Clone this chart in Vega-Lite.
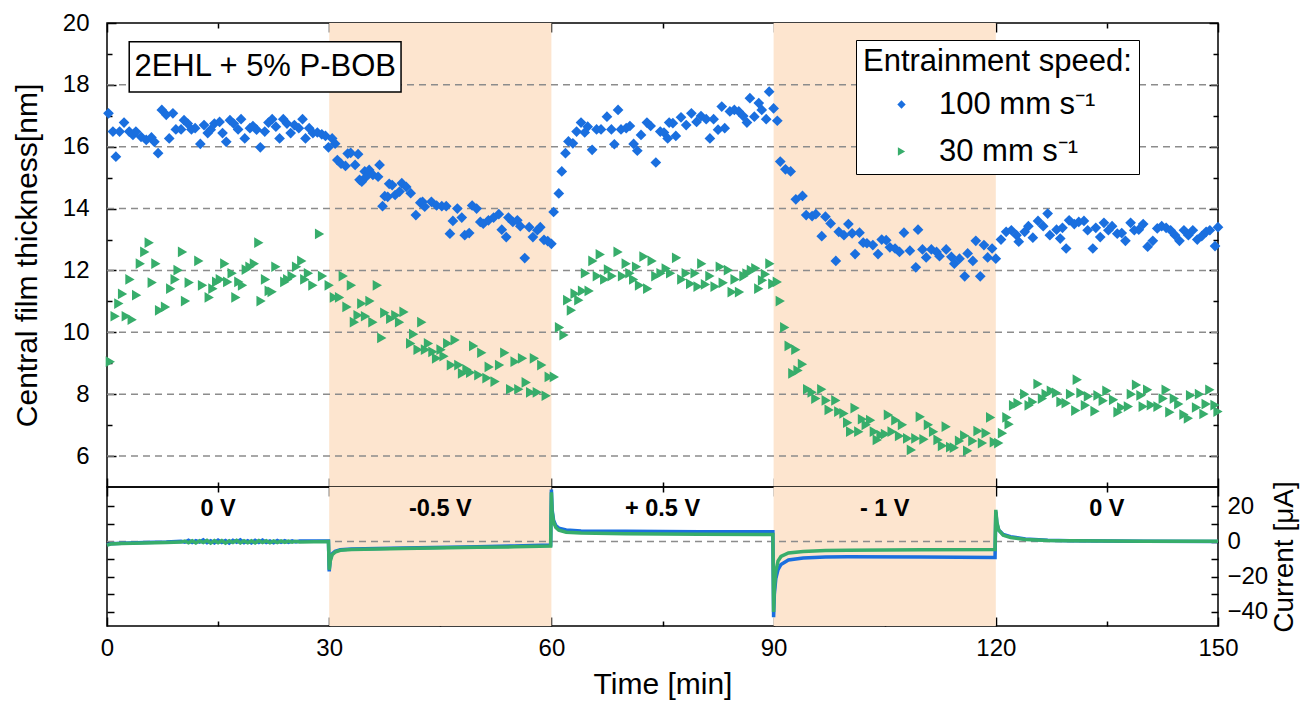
{
  "$schema": "https://vega.github.io/schema/vega-lite/v6.json",
  "padding": {"left": 11, "top": 10, "right": 5, "bottom": 5},
  "bounds": "flush",
  "spacing": 0,
  "background": "white",
  "config": {
    "font": "Liberation Sans",
    "view": {"stroke": "black", "strokeWidth": 1.5},
    "axis": {"domain": false, "grid": false, "tickColor": "black", "tickWidth": 1.5, "labelFont": "Liberation Sans", "labelFontSize": 24, "labelColor": "black", "titleFont": "Liberation Sans", "titleFontSize": 31, "titleFontWeight": "normal", "titleColor": "black", "labelFlush": false, "labelOverlap": false}
  },
  "resolve": {"scale": {"color": "independent", "shape": "independent"}},
  "datasets": {
    "zones": [{"start": 30, "end": 60}, {"start": 90, "end": 120}],
    "grid": [{"g": 6}, {"g": 8}, {"g": 10}, {"g": 12}, {"g": 14}, {"g": 16}, {"g": 18}],
    "zero": [{"z": 0}],
    "film": [
      {"t":0.2,"h":17.08,"s":"100 mm s⁻¹"},{"t":0.8,"h":16.49,"s":"100 mm s⁻¹"},{"t":1.2,"h":15.68,"s":"100 mm s⁻¹"},{"t":1.7,"h":16.49,"s":"100 mm s⁻¹"},{"t":2.3,"h":16.78,"s":"100 mm s⁻¹"},{"t":3.0,"h":16.49,"s":"100 mm s⁻¹"},{"t":3.5,"h":16.38,"s":"100 mm s⁻¹"},{"t":3.9,"h":16.49,"s":"100 mm s⁻¹"},{"t":4.6,"h":16.32,"s":"100 mm s⁻¹"},{"t":5.3,"h":16.22,"s":"100 mm s⁻¹"},
      {"t":6.0,"h":16.30,"s":"100 mm s⁻¹"},{"t":6.4,"h":16.16,"s":"100 mm s⁻¹"},{"t":6.9,"h":15.79,"s":"100 mm s⁻¹"},{"t":7.4,"h":17.19,"s":"100 mm s⁻¹"},{"t":8.0,"h":17.03,"s":"100 mm s⁻¹"},{"t":8.4,"h":16.27,"s":"100 mm s⁻¹"},{"t":8.9,"h":17.08,"s":"100 mm s⁻¹"},{"t":9.3,"h":16.56,"s":"100 mm s⁻¹"},{"t":10.0,"h":16.56,"s":"100 mm s⁻¹"},{"t":10.4,"h":16.86,"s":"100 mm s⁻¹"},
      {"t":10.9,"h":16.75,"s":"100 mm s⁻¹"},{"t":11.4,"h":16.56,"s":"100 mm s⁻¹"},{"t":11.9,"h":16.60,"s":"100 mm s⁻¹"},{"t":12.6,"h":16.09,"s":"100 mm s⁻¹"},{"t":13.1,"h":16.70,"s":"100 mm s⁻¹"},{"t":13.6,"h":16.44,"s":"100 mm s⁻¹"},{"t":14.0,"h":16.55,"s":"100 mm s⁻¹"},{"t":14.5,"h":16.75,"s":"100 mm s⁻¹"},{"t":15.2,"h":16.80,"s":"100 mm s⁻¹"},{"t":15.6,"h":16.44,"s":"100 mm s⁻¹"},
      {"t":16.1,"h":16.16,"s":"100 mm s⁻¹"},{"t":16.6,"h":16.86,"s":"100 mm s⁻¹"},{"t":17.1,"h":16.75,"s":"100 mm s⁻¹"},{"t":17.7,"h":16.56,"s":"100 mm s⁻¹"},{"t":18.1,"h":16.89,"s":"100 mm s⁻¹"},{"t":18.6,"h":16.27,"s":"100 mm s⁻¹"},{"t":19.3,"h":16.60,"s":"100 mm s⁻¹"},{"t":19.7,"h":16.67,"s":"100 mm s⁻¹"},{"t":20.2,"h":16.55,"s":"100 mm s⁻¹"},{"t":20.7,"h":15.98,"s":"100 mm s⁻¹"},
      {"t":21.3,"h":16.49,"s":"100 mm s⁻¹"},{"t":21.8,"h":16.78,"s":"100 mm s⁻¹"},{"t":22.3,"h":16.89,"s":"100 mm s⁻¹"},{"t":22.8,"h":16.65,"s":"100 mm s⁻¹"},{"t":23.3,"h":16.27,"s":"100 mm s⁻¹"},{"t":23.8,"h":16.89,"s":"100 mm s⁻¹"},{"t":24.3,"h":16.75,"s":"100 mm s⁻¹"},{"t":24.8,"h":16.44,"s":"100 mm s⁻¹"},{"t":25.3,"h":16.70,"s":"100 mm s⁻¹"},{"t":25.9,"h":16.60,"s":"100 mm s⁻¹"},
      {"t":26.4,"h":16.89,"s":"100 mm s⁻¹"},{"t":26.8,"h":16.27,"s":"100 mm s⁻¹"},{"t":27.3,"h":16.60,"s":"100 mm s⁻¹"},{"t":27.8,"h":16.44,"s":"100 mm s⁻¹"},{"t":28.4,"h":16.46,"s":"100 mm s⁻¹"},{"t":29.0,"h":16.40,"s":"100 mm s⁻¹"},{"t":29.5,"h":16.35,"s":"100 mm s⁻¹"},{"t":29.9,"h":15.98,"s":"100 mm s⁻¹"},{"t":30.4,"h":16.27,"s":"100 mm s⁻¹"},{"t":30.8,"h":16.10,"s":"100 mm s⁻¹"},
      {"t":31.1,"h":15.57,"s":"100 mm s⁻¹"},{"t":31.6,"h":15.45,"s":"100 mm s⁻¹"},{"t":32.2,"h":15.38,"s":"100 mm s⁻¹"},{"t":32.5,"h":15.78,"s":"100 mm s⁻¹"},{"t":32.9,"h":15.80,"s":"100 mm s⁻¹"},{"t":33.5,"h":15.41,"s":"100 mm s⁻¹"},{"t":33.9,"h":15.76,"s":"100 mm s⁻¹"},{"t":34.1,"h":14.93,"s":"100 mm s⁻¹"},{"t":34.4,"h":14.87,"s":"100 mm s⁻¹"},{"t":34.8,"h":15.20,"s":"100 mm s⁻¹"},
      {"t":35.0,"h":15.03,"s":"100 mm s⁻¹"},{"t":35.4,"h":15.25,"s":"100 mm s⁻¹"},{"t":35.9,"h":15.09,"s":"100 mm s⁻¹"},{"t":36.6,"h":15.03,"s":"100 mm s⁻¹"},{"t":36.8,"h":15.41,"s":"100 mm s⁻¹"},{"t":37.2,"h":14.08,"s":"100 mm s⁻¹"},{"t":37.5,"h":14.40,"s":"100 mm s⁻¹"},{"t":37.9,"h":14.38,"s":"100 mm s⁻¹"},{"t":38.1,"h":14.80,"s":"100 mm s⁻¹"},{"t":38.5,"h":14.76,"s":"100 mm s⁻¹"},
      {"t":38.9,"h":14.44,"s":"100 mm s⁻¹"},{"t":39.5,"h":14.55,"s":"100 mm s⁻¹"},{"t":39.8,"h":14.82,"s":"100 mm s⁻¹"},{"t":40.4,"h":14.70,"s":"100 mm s⁻¹"},{"t":41.0,"h":14.50,"s":"100 mm s⁻¹"},{"t":41.7,"h":13.79,"s":"100 mm s⁻¹"},{"t":42.3,"h":14.19,"s":"100 mm s⁻¹"},{"t":42.6,"h":14.22,"s":"100 mm s⁻¹"},{"t":42.9,"h":14.06,"s":"100 mm s⁻¹"},{"t":43.8,"h":14.22,"s":"100 mm s⁻¹"},
      {"t":44.5,"h":14.10,"s":"100 mm s⁻¹"},{"t":45.2,"h":14.08,"s":"100 mm s⁻¹"},{"t":45.8,"h":14.08,"s":"100 mm s⁻¹"},{"t":46.3,"h":13.19,"s":"100 mm s⁻¹"},{"t":46.7,"h":13.60,"s":"100 mm s⁻¹"},{"t":47.3,"h":14.00,"s":"100 mm s⁻¹"},{"t":47.9,"h":13.71,"s":"100 mm s⁻¹"},{"t":48.3,"h":13.14,"s":"100 mm s⁻¹"},{"t":48.9,"h":13.21,"s":"100 mm s⁻¹"},{"t":49.3,"h":14.10,"s":"100 mm s⁻¹"},
      {"t":49.9,"h":14.00,"s":"100 mm s⁻¹"},{"t":50.4,"h":13.57,"s":"100 mm s⁻¹"},{"t":50.8,"h":13.51,"s":"100 mm s⁻¹"},{"t":51.5,"h":13.62,"s":"100 mm s⁻¹"},{"t":52.2,"h":13.71,"s":"100 mm s⁻¹"},{"t":52.9,"h":13.82,"s":"100 mm s⁻¹"},{"t":53.3,"h":13.32,"s":"100 mm s⁻¹"},{"t":53.9,"h":13.08,"s":"100 mm s⁻¹"},{"t":54.2,"h":13.71,"s":"100 mm s⁻¹"},{"t":54.8,"h":13.57,"s":"100 mm s⁻¹"},
      {"t":55.4,"h":13.62,"s":"100 mm s⁻¹"},{"t":55.8,"h":13.43,"s":"100 mm s⁻¹"},{"t":56.4,"h":12.40,"s":"100 mm s⁻¹"},{"t":57.0,"h":13.40,"s":"100 mm s⁻¹"},{"t":57.5,"h":13.08,"s":"100 mm s⁻¹"},{"t":58.1,"h":13.30,"s":"100 mm s⁻¹"},{"t":58.5,"h":13.40,"s":"100 mm s⁻¹"},{"t":59.0,"h":12.99,"s":"100 mm s⁻¹"},{"t":59.5,"h":12.95,"s":"100 mm s⁻¹"},{"t":60.0,"h":12.86,"s":"100 mm s⁻¹"},
      {"t":60.3,"h":13.89,"s":"100 mm s⁻¹"},{"t":61.0,"h":14.49,"s":"100 mm s⁻¹"},{"t":61.4,"h":15.20,"s":"100 mm s⁻¹"},{"t":61.9,"h":15.79,"s":"100 mm s⁻¹"},{"t":62.3,"h":16.17,"s":"100 mm s⁻¹"},{"t":62.9,"h":16.11,"s":"100 mm s⁻¹"},{"t":63.4,"h":16.49,"s":"100 mm s⁻¹"},{"t":64.0,"h":16.78,"s":"100 mm s⁻¹"},{"t":64.5,"h":16.46,"s":"100 mm s⁻¹"},{"t":64.9,"h":16.65,"s":"100 mm s⁻¹"},
      {"t":65.5,"h":15.90,"s":"100 mm s⁻¹"},{"t":66.1,"h":16.56,"s":"100 mm s⁻¹"},{"t":66.7,"h":16.56,"s":"100 mm s⁻¹"},{"t":67.5,"h":16.97,"s":"100 mm s⁻¹"},{"t":68.1,"h":16.56,"s":"100 mm s⁻¹"},{"t":68.5,"h":16.08,"s":"100 mm s⁻¹"},{"t":69.0,"h":17.19,"s":"100 mm s⁻¹"},{"t":69.4,"h":16.56,"s":"100 mm s⁻¹"},{"t":70.1,"h":16.60,"s":"100 mm s⁻¹"},{"t":70.6,"h":16.67,"s":"100 mm s⁻¹"},
      {"t":71.1,"h":16.09,"s":"100 mm s⁻¹"},{"t":71.6,"h":15.87,"s":"100 mm s⁻¹"},{"t":72.1,"h":16.38,"s":"100 mm s⁻¹"},{"t":72.9,"h":16.78,"s":"100 mm s⁻¹"},{"t":73.4,"h":16.67,"s":"100 mm s⁻¹"},{"t":74.1,"h":15.49,"s":"100 mm s⁻¹"},{"t":74.7,"h":16.49,"s":"100 mm s⁻¹"},{"t":75.2,"h":16.46,"s":"100 mm s⁻¹"},{"t":75.7,"h":16.27,"s":"100 mm s⁻¹"},{"t":75.9,"h":16.78,"s":"100 mm s⁻¹"},
      {"t":76.4,"h":16.76,"s":"100 mm s⁻¹"},{"t":76.8,"h":16.35,"s":"100 mm s⁻¹"},{"t":77.5,"h":16.95,"s":"100 mm s⁻¹"},{"t":78.2,"h":16.70,"s":"100 mm s⁻¹"},{"t":78.9,"h":17.08,"s":"100 mm s⁻¹"},{"t":79.6,"h":16.80,"s":"100 mm s⁻¹"},{"t":80.2,"h":16.99,"s":"100 mm s⁻¹"},{"t":80.9,"h":16.89,"s":"100 mm s⁻¹"},{"t":81.4,"h":16.27,"s":"100 mm s⁻¹"},{"t":81.9,"h":16.89,"s":"100 mm s⁻¹"},
      {"t":82.5,"h":16.55,"s":"100 mm s⁻¹"},{"t":83.0,"h":17.30,"s":"100 mm s⁻¹"},{"t":83.4,"h":16.60,"s":"100 mm s⁻¹"},{"t":84.1,"h":17.14,"s":"100 mm s⁻¹"},{"t":84.7,"h":17.19,"s":"100 mm s⁻¹"},{"t":85.3,"h":17.14,"s":"100 mm s⁻¹"},{"t":85.9,"h":16.99,"s":"100 mm s⁻¹"},{"t":86.4,"h":16.78,"s":"100 mm s⁻¹"},{"t":86.8,"h":17.57,"s":"100 mm s⁻¹"},{"t":87.4,"h":16.97,"s":"100 mm s⁻¹"},
      {"t":88.0,"h":17.41,"s":"100 mm s⁻¹"},{"t":88.4,"h":17.19,"s":"100 mm s⁻¹"},{"t":89.0,"h":16.89,"s":"100 mm s⁻¹"},{"t":89.4,"h":17.78,"s":"100 mm s⁻¹"},{"t":90.0,"h":17.24,"s":"100 mm s⁻¹"},{"t":90.5,"h":16.84,"s":"100 mm s⁻¹"},{"t":90.9,"h":15.52,"s":"100 mm s⁻¹"},{"t":91.6,"h":15.27,"s":"100 mm s⁻¹"},{"t":92.3,"h":15.20,"s":"100 mm s⁻¹"},{"t":93.0,"h":14.30,"s":"100 mm s⁻¹"},
      {"t":93.9,"h":14.41,"s":"100 mm s⁻¹"},{"t":94.4,"h":13.79,"s":"100 mm s⁻¹"},{"t":95.2,"h":13.76,"s":"100 mm s⁻¹"},{"t":95.7,"h":13.82,"s":"100 mm s⁻¹"},{"t":96.5,"h":13.11,"s":"100 mm s⁻¹"},{"t":97.0,"h":13.74,"s":"100 mm s⁻¹"},{"t":97.7,"h":13.52,"s":"100 mm s⁻¹"},{"t":98.4,"h":12.31,"s":"100 mm s⁻¹"},{"t":98.8,"h":13.25,"s":"100 mm s⁻¹"},{"t":99.5,"h":13.14,"s":"100 mm s⁻¹"},
      {"t":100.1,"h":13.50,"s":"100 mm s⁻¹"},{"t":100.6,"h":13.20,"s":"100 mm s⁻¹"},{"t":101.0,"h":12.53,"s":"100 mm s⁻¹"},{"t":101.6,"h":13.22,"s":"100 mm s⁻¹"},{"t":102.1,"h":12.90,"s":"100 mm s⁻¹"},{"t":102.6,"h":12.88,"s":"100 mm s⁻¹"},{"t":103.4,"h":12.82,"s":"100 mm s⁻¹"},{"t":104.1,"h":12.53,"s":"100 mm s⁻¹"},{"t":104.6,"h":13.00,"s":"100 mm s⁻¹"},{"t":105.2,"h":12.98,"s":"100 mm s⁻¹"},
      {"t":105.7,"h":12.75,"s":"100 mm s⁻¹"},{"t":106.4,"h":12.71,"s":"100 mm s⁻¹"},{"t":107.0,"h":12.60,"s":"100 mm s⁻¹"},{"t":107.6,"h":13.22,"s":"100 mm s⁻¹"},{"t":108.4,"h":12.64,"s":"100 mm s⁻¹"},{"t":109.2,"h":12.10,"s":"100 mm s⁻¹"},{"t":109.5,"h":13.32,"s":"100 mm s⁻¹"},{"t":110.1,"h":12.68,"s":"100 mm s⁻¹"},{"t":110.6,"h":12.42,"s":"100 mm s⁻¹"},{"t":111.3,"h":12.68,"s":"100 mm s⁻¹"},
      {"t":112.0,"h":12.60,"s":"100 mm s⁻¹"},{"t":112.4,"h":12.46,"s":"100 mm s⁻¹"},{"t":113.3,"h":12.68,"s":"100 mm s⁻¹"},{"t":114.0,"h":12.44,"s":"100 mm s⁻¹"},{"t":114.4,"h":12.22,"s":"100 mm s⁻¹"},{"t":115.1,"h":12.38,"s":"100 mm s⁻¹"},{"t":115.8,"h":11.81,"s":"100 mm s⁻¹"},{"t":116.2,"h":12.55,"s":"100 mm s⁻¹"},{"t":116.9,"h":12.31,"s":"100 mm s⁻¹"},{"t":117.3,"h":12.96,"s":"100 mm s⁻¹"},
      {"t":117.9,"h":11.81,"s":"100 mm s⁻¹"},{"t":118.4,"h":12.82,"s":"100 mm s⁻¹"},{"t":118.9,"h":12.42,"s":"100 mm s⁻¹"},{"t":119.5,"h":12.71,"s":"100 mm s⁻¹"},{"t":120.0,"h":12.38,"s":"100 mm s⁻¹"},{"t":120.7,"h":13.00,"s":"100 mm s⁻¹"},{"t":121.4,"h":13.25,"s":"100 mm s⁻¹"},{"t":122.1,"h":13.30,"s":"100 mm s⁻¹"},{"t":122.8,"h":13.14,"s":"100 mm s⁻¹"},{"t":123.1,"h":12.93,"s":"100 mm s⁻¹"},
      {"t":123.9,"h":13.25,"s":"100 mm s⁻¹"},{"t":124.4,"h":13.43,"s":"100 mm s⁻¹"},{"t":125.0,"h":13.06,"s":"100 mm s⁻¹"},{"t":125.7,"h":13.60,"s":"100 mm s⁻¹"},{"t":126.4,"h":13.43,"s":"100 mm s⁻¹"},{"t":127.0,"h":13.84,"s":"100 mm s⁻¹"},{"t":127.3,"h":13.14,"s":"100 mm s⁻¹"},{"t":128.2,"h":13.32,"s":"100 mm s⁻¹"},{"t":128.7,"h":13.03,"s":"100 mm s⁻¹"},{"t":129.0,"h":13.38,"s":"100 mm s⁻¹"},
      {"t":129.5,"h":12.71,"s":"100 mm s⁻¹"},{"t":129.9,"h":13.62,"s":"100 mm s⁻¹"},{"t":130.6,"h":13.50,"s":"100 mm s⁻¹"},{"t":131.2,"h":13.57,"s":"100 mm s⁻¹"},{"t":131.9,"h":13.60,"s":"100 mm s⁻¹"},{"t":132.4,"h":13.30,"s":"100 mm s⁻¹"},{"t":133.1,"h":12.71,"s":"100 mm s⁻¹"},{"t":133.5,"h":13.38,"s":"100 mm s⁻¹"},{"t":134.1,"h":13.08,"s":"100 mm s⁻¹"},{"t":134.6,"h":13.54,"s":"100 mm s⁻¹"},
      {"t":135.2,"h":13.30,"s":"100 mm s⁻¹"},{"t":135.7,"h":13.43,"s":"100 mm s⁻¹"},{"t":136.4,"h":13.19,"s":"100 mm s⁻¹"},{"t":137.0,"h":13.21,"s":"100 mm s⁻¹"},{"t":137.5,"h":12.96,"s":"100 mm s⁻¹"},{"t":138.2,"h":13.54,"s":"100 mm s⁻¹"},{"t":138.7,"h":13.30,"s":"100 mm s⁻¹"},{"t":139.3,"h":13.32,"s":"100 mm s⁻¹"},{"t":139.9,"h":13.50,"s":"100 mm s⁻¹"},{"t":140.5,"h":12.77,"s":"100 mm s⁻¹"},
      {"t":141.2,"h":12.96,"s":"100 mm s⁻¹"},{"t":141.8,"h":13.36,"s":"100 mm s⁻¹"},{"t":142.4,"h":13.43,"s":"100 mm s⁻¹"},{"t":143.0,"h":13.38,"s":"100 mm s⁻¹"},{"t":143.6,"h":13.30,"s":"100 mm s⁻¹"},{"t":144.2,"h":13.14,"s":"100 mm s⁻¹"},{"t":144.8,"h":12.96,"s":"100 mm s⁻¹"},{"t":145.4,"h":13.30,"s":"100 mm s⁻¹"},{"t":146.0,"h":13.14,"s":"100 mm s⁻¹"},{"t":146.6,"h":13.30,"s":"100 mm s⁻¹"},
      {"t":147.2,"h":13.00,"s":"100 mm s⁻¹"},{"t":147.8,"h":13.11,"s":"100 mm s⁻¹"},{"t":148.4,"h":13.25,"s":"100 mm s⁻¹"},{"t":148.9,"h":13.30,"s":"100 mm s⁻¹"},{"t":149.6,"h":12.79,"s":"100 mm s⁻¹"},{"t":150.0,"h":13.40,"s":"100 mm s⁻¹"},
      {"t":0.45,"h":9.05,"s":"30 mm s⁻¹"},{"t":1.1,"h":10.52,"s":"30 mm s⁻¹"},{"t":1.6,"h":10.93,"s":"30 mm s⁻¹"},{"t":2.1,"h":11.24,"s":"30 mm s⁻¹"},{"t":2.6,"h":10.52,"s":"30 mm s⁻¹"},{"t":3.1,"h":11.71,"s":"30 mm s⁻¹"},{"t":3.4,"h":10.41,"s":"30 mm s⁻¹"},{"t":4.0,"h":11.20,"s":"30 mm s⁻¹"},{"t":4.5,"h":12.22,"s":"30 mm s⁻¹"},{"t":5.1,"h":12.60,"s":"30 mm s⁻¹"},
      {"t":5.7,"h":12.90,"s":"30 mm s⁻¹"},{"t":6.1,"h":11.61,"s":"30 mm s⁻¹"},{"t":6.6,"h":12.22,"s":"30 mm s⁻¹"},{"t":7.1,"h":10.71,"s":"30 mm s⁻¹"},{"t":7.9,"h":10.82,"s":"30 mm s⁻¹"},{"t":8.6,"h":11.41,"s":"30 mm s⁻¹"},{"t":9.2,"h":11.71,"s":"30 mm s⁻¹"},{"t":9.6,"h":12.01,"s":"30 mm s⁻¹"},{"t":10.2,"h":12.60,"s":"30 mm s⁻¹"},{"t":10.6,"h":11.01,"s":"30 mm s⁻¹"},
      {"t":11.1,"h":11.61,"s":"30 mm s⁻¹"},{"t":12.4,"h":12.31,"s":"30 mm s⁻¹"},{"t":12.9,"h":11.52,"s":"30 mm s⁻¹"},{"t":13.8,"h":11.13,"s":"30 mm s⁻¹"},{"t":14.3,"h":11.41,"s":"30 mm s⁻¹"},{"t":14.8,"h":11.63,"s":"30 mm s⁻¹"},{"t":15.3,"h":11.71,"s":"30 mm s⁻¹"},{"t":15.9,"h":12.22,"s":"30 mm s⁻¹"},{"t":16.3,"h":11.63,"s":"30 mm s⁻¹"},{"t":16.9,"h":11.91,"s":"30 mm s⁻¹"},
      {"t":17.4,"h":11.13,"s":"30 mm s⁻¹"},{"t":17.8,"h":11.63,"s":"30 mm s⁻¹"},{"t":18.3,"h":11.52,"s":"30 mm s⁻¹"},{"t":18.8,"h":12.03,"s":"30 mm s⁻¹"},{"t":19.3,"h":12.12,"s":"30 mm s⁻¹"},{"t":19.9,"h":12.22,"s":"30 mm s⁻¹"},{"t":20.5,"h":12.90,"s":"30 mm s⁻¹"},{"t":20.8,"h":11.01,"s":"30 mm s⁻¹"},{"t":21.4,"h":11.71,"s":"30 mm s⁻¹"},{"t":21.9,"h":11.34,"s":"30 mm s⁻¹"},
      {"t":22.3,"h":11.31,"s":"30 mm s⁻¹"},{"t":22.8,"h":12.12,"s":"30 mm s⁻¹"},{"t":24.0,"h":11.63,"s":"30 mm s⁻¹"},{"t":24.4,"h":11.71,"s":"30 mm s⁻¹"},{"t":25.0,"h":11.82,"s":"30 mm s⁻¹"},{"t":25.6,"h":12.12,"s":"30 mm s⁻¹"},{"t":26.3,"h":12.31,"s":"30 mm s⁻¹"},{"t":26.7,"h":11.71,"s":"30 mm s⁻¹"},{"t":27.2,"h":11.91,"s":"30 mm s⁻¹"},{"t":27.8,"h":11.52,"s":"30 mm s⁻¹"},
      {"t":28.7,"h":13.18,"s":"30 mm s⁻¹"},{"t":29.1,"h":11.82,"s":"30 mm s⁻¹"},{"t":30.0,"h":11.52,"s":"30 mm s⁻¹"},{"t":30.7,"h":11.13,"s":"30 mm s⁻¹"},{"t":31.4,"h":11.13,"s":"30 mm s⁻¹"},{"t":31.9,"h":11.82,"s":"30 mm s⁻¹"},{"t":32.4,"h":10.82,"s":"30 mm s⁻¹"},{"t":33.0,"h":11.52,"s":"30 mm s⁻¹"},{"t":33.4,"h":10.33,"s":"30 mm s⁻¹"},{"t":33.9,"h":10.55,"s":"30 mm s⁻¹"},
      {"t":34.4,"h":10.93,"s":"30 mm s⁻¹"},{"t":34.9,"h":10.52,"s":"30 mm s⁻¹"},{"t":35.5,"h":11.01,"s":"30 mm s⁻¹"},{"t":35.9,"h":10.33,"s":"30 mm s⁻¹"},{"t":36.5,"h":11.52,"s":"30 mm s⁻¹"},{"t":37.1,"h":9.82,"s":"30 mm s⁻¹"},{"t":37.5,"h":10.63,"s":"30 mm s⁻¹"},{"t":38.3,"h":10.44,"s":"30 mm s⁻¹"},{"t":39.0,"h":10.55,"s":"30 mm s⁻¹"},{"t":39.5,"h":10.33,"s":"30 mm s⁻¹"},
      {"t":40.1,"h":10.66,"s":"30 mm s⁻¹"},{"t":41.0,"h":9.64,"s":"30 mm s⁻¹"},{"t":41.4,"h":9.94,"s":"30 mm s⁻¹"},{"t":42.0,"h":9.44,"s":"30 mm s⁻¹"},{"t":42.5,"h":10.33,"s":"30 mm s⁻¹"},{"t":43.0,"h":9.44,"s":"30 mm s⁻¹"},{"t":43.4,"h":9.64,"s":"30 mm s⁻¹"},{"t":44.0,"h":9.37,"s":"30 mm s⁻¹"},{"t":44.5,"h":9.16,"s":"30 mm s⁻¹"},{"t":45.1,"h":9.44,"s":"30 mm s⁻¹"},
      {"t":45.5,"h":9.23,"s":"30 mm s⁻¹"},{"t":46.0,"h":9.64,"s":"30 mm s⁻¹"},{"t":46.5,"h":8.94,"s":"30 mm s⁻¹"},{"t":47.0,"h":9.75,"s":"30 mm s⁻¹"},{"t":47.5,"h":8.94,"s":"30 mm s⁻¹"},{"t":48.0,"h":8.67,"s":"30 mm s⁻¹"},{"t":48.6,"h":8.80,"s":"30 mm s⁻¹"},{"t":49.1,"h":8.70,"s":"30 mm s⁻¹"},{"t":49.5,"h":9.56,"s":"30 mm s⁻¹"},{"t":50.2,"h":8.62,"s":"30 mm s⁻¹"},
      {"t":50.6,"h":9.34,"s":"30 mm s⁻¹"},{"t":51.3,"h":8.52,"s":"30 mm s⁻¹"},{"t":51.6,"h":8.88,"s":"30 mm s⁻¹"},{"t":52.4,"h":8.41,"s":"30 mm s⁻¹"},{"t":53.0,"h":8.94,"s":"30 mm s⁻¹"},{"t":53.7,"h":9.34,"s":"30 mm s⁻¹"},{"t":54.5,"h":8.16,"s":"30 mm s⁻¹"},{"t":55.1,"h":9.05,"s":"30 mm s⁻¹"},{"t":55.6,"h":8.16,"s":"30 mm s⁻¹"},{"t":56.1,"h":9.16,"s":"30 mm s⁻¹"},
      {"t":56.6,"h":8.38,"s":"30 mm s⁻¹"},{"t":57.2,"h":8.06,"s":"30 mm s⁻¹"},{"t":57.7,"h":9.16,"s":"30 mm s⁻¹"},{"t":58.1,"h":8.06,"s":"30 mm s⁻¹"},{"t":58.7,"h":8.94,"s":"30 mm s⁻¹"},{"t":59.3,"h":7.95,"s":"30 mm s⁻¹"},{"t":59.7,"h":8.56,"s":"30 mm s⁻¹"},{"t":60.4,"h":8.56,"s":"30 mm s⁻¹"},{"t":61.1,"h":10.16,"s":"30 mm s⁻¹"},{"t":61.7,"h":9.91,"s":"30 mm s⁻¹"},
      {"t":62.2,"h":11.04,"s":"30 mm s⁻¹"},{"t":62.7,"h":10.71,"s":"30 mm s⁻¹"},{"t":63.2,"h":11.25,"s":"30 mm s⁻¹"},{"t":63.7,"h":11.04,"s":"30 mm s⁻¹"},{"t":64.2,"h":11.34,"s":"30 mm s⁻¹"},{"t":64.6,"h":11.91,"s":"30 mm s⁻¹"},{"t":65.1,"h":11.34,"s":"30 mm s⁻¹"},{"t":65.6,"h":12.31,"s":"30 mm s⁻¹"},{"t":66.2,"h":11.82,"s":"30 mm s⁻¹"},{"t":66.6,"h":12.52,"s":"30 mm s⁻¹"},
      {"t":67.2,"h":11.71,"s":"30 mm s⁻¹"},{"t":67.7,"h":12.03,"s":"30 mm s⁻¹"},{"t":68.2,"h":11.82,"s":"30 mm s⁻¹"},{"t":69.0,"h":12.60,"s":"30 mm s⁻¹"},{"t":69.6,"h":11.82,"s":"30 mm s⁻¹"},{"t":70.1,"h":12.22,"s":"30 mm s⁻¹"},{"t":70.6,"h":11.91,"s":"30 mm s⁻¹"},{"t":71.1,"h":11.71,"s":"30 mm s⁻¹"},{"t":71.5,"h":12.12,"s":"30 mm s⁻¹"},{"t":71.9,"h":11.52,"s":"30 mm s⁻¹"},
      {"t":72.5,"h":12.45,"s":"30 mm s⁻¹"},{"t":73.0,"h":11.41,"s":"30 mm s⁻¹"},{"t":73.6,"h":12.31,"s":"30 mm s⁻¹"},{"t":74.1,"h":11.82,"s":"30 mm s⁻¹"},{"t":74.8,"h":11.91,"s":"30 mm s⁻¹"},{"t":75.5,"h":12.06,"s":"30 mm s⁻¹"},{"t":76.1,"h":11.91,"s":"30 mm s⁻¹"},{"t":76.9,"h":12.41,"s":"30 mm s⁻¹"},{"t":77.6,"h":11.71,"s":"30 mm s⁻¹"},{"t":78.2,"h":11.91,"s":"30 mm s⁻¹"},
      {"t":78.8,"h":11.57,"s":"30 mm s⁻¹"},{"t":79.4,"h":11.91,"s":"30 mm s⁻¹"},{"t":79.8,"h":11.48,"s":"30 mm s⁻¹"},{"t":80.3,"h":12.22,"s":"30 mm s⁻¹"},{"t":80.8,"h":11.55,"s":"30 mm s⁻¹"},{"t":81.4,"h":11.82,"s":"30 mm s⁻¹"},{"t":82.1,"h":11.48,"s":"30 mm s⁻¹"},{"t":82.8,"h":12.12,"s":"30 mm s⁻¹"},{"t":83.2,"h":11.60,"s":"30 mm s⁻¹"},{"t":83.9,"h":12.01,"s":"30 mm s⁻¹"},
      {"t":84.4,"h":11.30,"s":"30 mm s⁻¹"},{"t":84.8,"h":11.71,"s":"30 mm s⁻¹"},{"t":85.4,"h":11.30,"s":"30 mm s⁻¹"},{"t":86.0,"h":11.82,"s":"30 mm s⁻¹"},{"t":86.4,"h":11.90,"s":"30 mm s⁻¹"},{"t":87.0,"h":12.01,"s":"30 mm s⁻¹"},{"t":87.6,"h":12.07,"s":"30 mm s⁻¹"},{"t":88.0,"h":11.41,"s":"30 mm s⁻¹"},{"t":88.5,"h":11.68,"s":"30 mm s⁻¹"},{"t":88.9,"h":11.88,"s":"30 mm s⁻¹"},
      {"t":89.5,"h":12.22,"s":"30 mm s⁻¹"},{"t":89.9,"h":11.57,"s":"30 mm s⁻¹"},{"t":90.5,"h":11.63,"s":"30 mm s⁻¹"},{"t":90.9,"h":11.01,"s":"30 mm s⁻¹"},{"t":91.5,"h":10.16,"s":"30 mm s⁻¹"},{"t":92.1,"h":9.56,"s":"30 mm s⁻¹"},{"t":92.6,"h":8.67,"s":"30 mm s⁻¹"},{"t":93.0,"h":9.44,"s":"30 mm s⁻¹"},{"t":93.3,"h":8.77,"s":"30 mm s⁻¹"},{"t":93.9,"h":8.97,"s":"30 mm s⁻¹"},
      {"t":94.6,"h":8.16,"s":"30 mm s⁻¹"},{"t":95.2,"h":8.06,"s":"30 mm s⁻¹"},{"t":95.7,"h":7.86,"s":"30 mm s⁻¹"},{"t":96.5,"h":8.16,"s":"30 mm s⁻¹"},{"t":97.1,"h":7.80,"s":"30 mm s⁻¹"},{"t":97.5,"h":7.49,"s":"30 mm s⁻¹"},{"t":98.4,"h":7.80,"s":"30 mm s⁻¹"},{"t":98.8,"h":7.44,"s":"30 mm s⁻¹"},{"t":99.5,"h":7.38,"s":"30 mm s⁻¹"},{"t":100.0,"h":7.08,"s":"30 mm s⁻¹"},
      {"t":100.4,"h":6.79,"s":"30 mm s⁻¹"},{"t":101.0,"h":7.55,"s":"30 mm s⁻¹"},{"t":101.5,"h":6.79,"s":"30 mm s⁻¹"},{"t":102.0,"h":7.19,"s":"30 mm s⁻¹"},{"t":102.5,"h":7.01,"s":"30 mm s⁻¹"},{"t":103.1,"h":7.16,"s":"30 mm s⁻¹"},{"t":103.6,"h":6.79,"s":"30 mm s⁻¹"},{"t":104.0,"h":6.52,"s":"30 mm s⁻¹"},{"t":104.5,"h":6.68,"s":"30 mm s⁻¹"},{"t":105.1,"h":6.71,"s":"30 mm s⁻¹"},
      {"t":105.5,"h":7.33,"s":"30 mm s⁻¹"},{"t":106.0,"h":6.79,"s":"30 mm s⁻¹"},{"t":106.5,"h":7.16,"s":"30 mm s⁻¹"},{"t":107.0,"h":6.65,"s":"30 mm s⁻¹"},{"t":107.4,"h":7.01,"s":"30 mm s⁻¹"},{"t":108.1,"h":6.57,"s":"30 mm s⁻¹"},{"t":108.6,"h":6.20,"s":"30 mm s⁻¹"},{"t":109.2,"h":6.57,"s":"30 mm s⁻¹"},{"t":109.8,"h":7.27,"s":"30 mm s⁻¹"},{"t":110.3,"h":6.54,"s":"30 mm s⁻¹"},
      {"t":110.9,"h":7.01,"s":"30 mm s⁻¹"},{"t":111.6,"h":6.79,"s":"30 mm s⁻¹"},{"t":112.2,"h":6.52,"s":"30 mm s⁻¹"},{"t":112.8,"h":6.33,"s":"30 mm s⁻¹"},{"t":113.3,"h":6.95,"s":"30 mm s⁻¹"},{"t":113.9,"h":6.29,"s":"30 mm s⁻¹"},{"t":114.4,"h":6.27,"s":"30 mm s⁻¹"},{"t":115.1,"h":6.49,"s":"30 mm s⁻¹"},{"t":115.8,"h":6.66,"s":"30 mm s⁻¹"},{"t":116.2,"h":6.17,"s":"30 mm s⁻¹"},
      {"t":116.9,"h":6.49,"s":"30 mm s⁻¹"},{"t":117.6,"h":6.81,"s":"30 mm s⁻¹"},{"t":118.2,"h":6.42,"s":"30 mm s⁻¹"},{"t":118.7,"h":6.74,"s":"30 mm s⁻¹"},{"t":119.3,"h":7.25,"s":"30 mm s⁻¹"},{"t":119.8,"h":6.45,"s":"30 mm s⁻¹"},{"t":120.4,"h":6.42,"s":"30 mm s⁻¹"},{"t":120.9,"h":6.74,"s":"30 mm s⁻¹"},{"t":121.5,"h":7.25,"s":"30 mm s⁻¹"},{"t":121.8,"h":7.03,"s":"30 mm s⁻¹"},
      {"t":122.4,"h":7.64,"s":"30 mm s⁻¹"},{"t":123.0,"h":7.71,"s":"30 mm s⁻¹"},{"t":123.9,"h":8.00,"s":"30 mm s⁻¹"},{"t":124.5,"h":7.64,"s":"30 mm s⁻¹"},{"t":125.0,"h":7.75,"s":"30 mm s⁻¹"},{"t":125.7,"h":8.33,"s":"30 mm s⁻¹"},{"t":126.3,"h":7.86,"s":"30 mm s⁻¹"},{"t":126.8,"h":8.00,"s":"30 mm s⁻¹"},{"t":127.5,"h":8.11,"s":"30 mm s⁻¹"},{"t":128.2,"h":8.04,"s":"30 mm s⁻¹"},
      {"t":128.8,"h":7.75,"s":"30 mm s⁻¹"},{"t":129.5,"h":7.71,"s":"30 mm s⁻¹"},{"t":130.1,"h":8.00,"s":"30 mm s⁻¹"},{"t":130.8,"h":7.47,"s":"30 mm s⁻¹"},{"t":131.0,"h":8.47,"s":"30 mm s⁻¹"},{"t":131.5,"h":8.04,"s":"30 mm s⁻¹"},{"t":132.1,"h":7.64,"s":"30 mm s⁻¹"},{"t":132.5,"h":7.93,"s":"30 mm s⁻¹"},{"t":133.4,"h":7.45,"s":"30 mm s⁻¹"},{"t":133.8,"h":7.96,"s":"30 mm s⁻¹"},
      {"t":134.5,"h":7.79,"s":"30 mm s⁻¹"},{"t":135.0,"h":8.11,"s":"30 mm s⁻¹"},{"t":135.9,"h":7.82,"s":"30 mm s⁻¹"},{"t":136.5,"h":7.42,"s":"30 mm s⁻¹"},{"t":137.0,"h":7.57,"s":"30 mm s⁻¹"},{"t":137.9,"h":7.60,"s":"30 mm s⁻¹"},{"t":138.3,"h":8.00,"s":"30 mm s⁻¹"},{"t":139.0,"h":8.30,"s":"30 mm s⁻¹"},{"t":139.6,"h":7.96,"s":"30 mm s⁻¹"},{"t":139.9,"h":7.60,"s":"30 mm s⁻¹"},
      {"t":140.5,"h":8.14,"s":"30 mm s⁻¹"},{"t":141.0,"h":7.65,"s":"30 mm s⁻¹"},{"t":141.9,"h":7.60,"s":"30 mm s⁻¹"},{"t":142.6,"h":7.86,"s":"30 mm s⁻¹"},{"t":143.0,"h":8.14,"s":"30 mm s⁻¹"},{"t":143.5,"h":7.42,"s":"30 mm s⁻¹"},{"t":144.1,"h":7.86,"s":"30 mm s⁻¹"},{"t":144.7,"h":7.68,"s":"30 mm s⁻¹"},{"t":145.4,"h":7.34,"s":"30 mm s⁻¹"},{"t":146.0,"h":7.22,"s":"30 mm s⁻¹"},
      {"t":146.3,"h":7.96,"s":"30 mm s⁻¹"},{"t":147.1,"h":7.57,"s":"30 mm s⁻¹"},{"t":147.5,"h":8.00,"s":"30 mm s⁻¹"},{"t":148.1,"h":7.36,"s":"30 mm s⁻¹"},{"t":148.4,"h":7.68,"s":"30 mm s⁻¹"},{"t":148.9,"h":8.14,"s":"30 mm s⁻¹"},{"t":149.6,"h":7.65,"s":"30 mm s⁻¹"},{"t":150.0,"h":7.44,"s":"30 mm s⁻¹"}
    ],
    "current": [
      {"t":0,"i":-1.8,"s":"100"},{"t":0.5,"i":-1.2,"s":"100"},{"t":2,"i":-0.9,"s":"100"},{"t":5,"i":-0.6,"s":"100"},{"t":8,"i":-0.3,"s":"100"},
      {"t":10,"i":0.1,"s":"100"},{"t":10.5,"i":-0.4,"s":"100"},{"t":11,"i":0.7,"s":"100"},{"t":11.5,"i":-0.6,"s":"100"},{"t":12,"i":0.5,"s":"100"},{"t":12.5,"i":-0.3,"s":"100"},{"t":13,"i":0.9,"s":"100"},{"t":13.5,"i":-0.7,"s":"100"},{"t":14,"i":0.4,"s":"100"},{"t":14.5,"i":-0.8,"s":"100"},
      {"t":15,"i":0.8,"s":"100"},{"t":15.5,"i":-0.5,"s":"100"},{"t":16,"i":0.6,"s":"100"},{"t":16.5,"i":-0.9,"s":"100"},{"t":17,"i":0.7,"s":"100"},{"t":17.5,"i":-0.4,"s":"100"},{"t":18,"i":0.9,"s":"100"},{"t":18.5,"i":-0.6,"s":"100"},{"t":19,"i":0.5,"s":"100"},{"t":19.5,"i":-0.8,"s":"100"},
      {"t":20,"i":0.7,"s":"100"},{"t":20.5,"i":-0.5,"s":"100"},{"t":21,"i":0.8,"s":"100"},{"t":21.5,"i":-0.6,"s":"100"},{"t":22,"i":0.4,"s":"100"},{"t":22.5,"i":-0.7,"s":"100"},{"t":23,"i":0.6,"s":"100"},{"t":23.5,"i":-0.4,"s":"100"},{"t":24,"i":0.5,"s":"100"},{"t":24.5,"i":-0.5,"s":"100"},
      {"t":25,"i":0.4,"s":"100"},{"t":25.5,"i":-0.2,"s":"100"},{"t":26,"i":0.3,"s":"100"},{"t":29.9,"i":0.3,"s":"100"},
      {"t":30,"i":-17,"s":"100"},{"t":30.15,"i":-10,"s":"100"},{"t":30.4,"i":-7,"s":"100"},{"t":30.8,"i":-5.5,"s":"100"},{"t":31.5,"i":-4.6,"s":"100"},{"t":33,"i":-4.2,"s":"100"},{"t":40,"i":-3.6,"s":"100"},
      {"t":50,"i":-2.9,"s":"100"},{"t":55,"i":-2.5,"s":"100"},{"t":59.9,"i":-1.9,"s":"100"},{"t":60,"i":29.5,"s":"100"},{"t":60.1,"i":18,"s":"100"},{"t":60.3,"i":12,"s":"100"},{"t":60.6,"i":9,"s":"100"},{"t":61,"i":7.6,"s":"100"},{"t":62,"i":6.6,"s":"100"},{"t":64,"i":6.0,"s":"100"},
      {"t":70,"i":5.8,"s":"100"},{"t":80,"i":5.6,"s":"100"},{"t":89.9,"i":5.5,"s":"100"},{"t":90,"i":-43,"s":"100"},{"t":90.1,"i":-30,"s":"100"},{"t":90.3,"i":-21,"s":"100"},{"t":90.6,"i":-16,"s":"100"},{"t":91,"i":-13,"s":"100"},{"t":92,"i":-10.5,"s":"100"},{"t":94,"i":-9.3,"s":"100"},
      {"t":97,"i":-8.8,"s":"100"},{"t":100,"i":-8.6,"s":"100"},{"t":110,"i":-8.8,"s":"100"},{"t":119.9,"i":-9.0,"s":"100"},{"t":120,"i":17,"s":"100"},{"t":120.15,"i":10,"s":"100"},{"t":120.4,"i":6.5,"s":"100"},{"t":121,"i":4,"s":"100"},{"t":122,"i":2.8,"s":"100"},{"t":124,"i":1.5,"s":"100"},
      {"t":127,"i":0.8,"s":"100"},{"t":130,"i":0.5,"s":"100"},{"t":135,"i":0.3,"s":"100"},{"t":140,"i":0.2,"s":"100"},{"t":150,"i":0,"s":"100"},
      {"t":0,"i":-2.0,"s":"30"},{"t":0.5,"i":-1.4,"s":"30"},{"t":2,"i":-1.1,"s":"30"},{"t":5,"i":-0.8,"s":"30"},{"t":8,"i":-0.6,"s":"30"},
      {"t":10,"i":-0.3,"s":"30"},{"t":10.5,"i":0.3,"s":"30"},{"t":11,"i":-0.7,"s":"30"},{"t":11.5,"i":0.5,"s":"30"},{"t":12,"i":-0.8,"s":"30"},{"t":12.5,"i":0.4,"s":"30"},{"t":13,"i":-0.6,"s":"30"},{"t":13.5,"i":0.7,"s":"30"},{"t":14,"i":-0.9,"s":"30"},{"t":14.5,"i":0.5,"s":"30"},
      {"t":15,"i":-0.7,"s":"30"},{"t":15.5,"i":0.6,"s":"30"},{"t":16,"i":-0.9,"s":"30"},{"t":16.5,"i":0.4,"s":"30"},{"t":17,"i":-0.6,"s":"30"},{"t":17.5,"i":0.7,"s":"30"},{"t":18,"i":-0.8,"s":"30"},{"t":18.5,"i":0.5,"s":"30"},{"t":19,"i":-0.7,"s":"30"},{"t":19.5,"i":0.4,"s":"30"},
      {"t":20,"i":-0.8,"s":"30"},{"t":20.5,"i":0.6,"s":"30"},{"t":21,"i":-0.6,"s":"30"},{"t":21.5,"i":0.5,"s":"30"},{"t":22,"i":-0.7,"s":"30"},{"t":22.5,"i":0.3,"s":"30"},{"t":23,"i":-0.6,"s":"30"},{"t":23.5,"i":0.4,"s":"30"},{"t":24,"i":-0.5,"s":"30"},{"t":24.5,"i":0.3,"s":"30"},
      {"t":25,"i":-0.4,"s":"30"},{"t":25.5,"i":0.2,"s":"30"},{"t":26,"i":-0.2,"s":"30"},{"t":29.9,"i":0,"s":"30"},
      {"t":30,"i":-16,"s":"30"},{"t":30.15,"i":-11,"s":"30"},{"t":30.4,"i":-7.5,"s":"30"},{"t":30.8,"i":-6,"s":"30"},{"t":31.5,"i":-5,"s":"30"},{"t":33,"i":-4.5,"s":"30"},{"t":40,"i":-4,"s":"30"},
      {"t":50,"i":-3.3,"s":"30"},{"t":55,"i":-3,"s":"30"},{"t":59.9,"i":-2.6,"s":"30"},{"t":60,"i":28,"s":"30"},{"t":60.1,"i":17,"s":"30"},{"t":60.3,"i":11,"s":"30"},{"t":60.6,"i":8,"s":"30"},{"t":61,"i":6.5,"s":"30"},{"t":62,"i":5.3,"s":"30"},{"t":64,"i":4.8,"s":"30"},
      {"t":70,"i":4.4,"s":"30"},{"t":80,"i":4.1,"s":"30"},{"t":89.9,"i":4,"s":"30"},{"t":90,"i":-40,"s":"30"},{"t":90.1,"i":-27,"s":"30"},{"t":90.3,"i":-17,"s":"30"},{"t":90.6,"i":-11,"s":"30"},{"t":91,"i":-8.5,"s":"30"},{"t":92,"i":-6.5,"s":"30"},{"t":94,"i":-5.6,"s":"30"},
      {"t":97,"i":-5.1,"s":"30"},{"t":100,"i":-4.9,"s":"30"},{"t":110,"i":-4.7,"s":"30"},{"t":119.9,"i":-4.5,"s":"30"},{"t":120,"i":18,"s":"30"},{"t":120.15,"i":11,"s":"30"},{"t":120.4,"i":6.5,"s":"30"},{"t":121,"i":3.6,"s":"30"},{"t":122,"i":2.3,"s":"30"},{"t":124,"i":1.2,"s":"30"},
      {"t":127,"i":0.6,"s":"30"},{"t":130,"i":0.4,"s":"30"},{"t":135,"i":0.3,"s":"30"},{"t":140,"i":0.2,"s":"30"},{"t":150,"i":0.2,"s":"30"}
    ],
    "volts": [{"t":15,"i":18.4,"label":"0 V"},{"t":45,"i":18.4,"label":"-0.5 V"},{"t":75,"i":18.4,"label":"+ 0.5 V"},{"t":105,"i":18.4,"label":"- 1 V"},{"t":135,"i":18.4,"label":"0 V"}],
    "note": [{"x1":3.0,"x2":39.7,"y1":17.77,"y2":19.39,"tx":3.7,"ty":18.58,"label":"2EHL + 5% P-BOB"}]
  },
  "vconcat": [
    {
      "width": 1111,
      "height": 464,
      "resolve": {"axis": {"x": "independent", "y": "independent"}},
      "layer": [
        {
          "data": {"name": "zones"},
          "mark": {"type": "rect", "color": "#fde5cf"},
          "encoding": {
            "x": {"field": "start", "type": "quantitative", "scale": {"domain": [0, 150], "nice": false, "zero": false},
                  "axis": {"orient": "bottom", "values": [0,15,30,45,60,75,90,105,120,135,150], "labels": false, "title": null, "tickSize": {"expr": "datum.value % 30 == 0 ? -9 : -5"}}},
            "x2": {"field": "end"}
          }
        },
        {
          "data": {"name": "grid"},
          "mark": {"type": "rule", "color": "#8c8c8c", "strokeDash": [7, 5], "strokeWidth": 1.5},
          "encoding": {
            "y": {"field": "g", "type": "quantitative", "scale": {"domain": [5, 20], "nice": false, "zero": false},
                  "axis": {"orient": "right", "values": [6,7,8,9,10,11,12,13,14,15,16,17,18,19,20], "labels": false, "title": null, "tickSize": {"expr": "datum.value % 2 == 0 ? -9 : -5"}}}
          }
        },
        {
          "data": {"name": "film"},
          "mark": {"type": "point", "filled": true, "opacity": 1, "size": 115},
          "encoding": {
            "x": {"field": "t", "type": "quantitative", "scale": {"domain": [0, 150], "nice": false, "zero": false},
                  "axis": {"orient": "top", "values": [0,15,30,45,60,75,90,105,120,135,150], "labels": false, "title": null, "tickSize": {"expr": "datum.value % 30 == 0 ? -9 : -5"}}},
            "y": {"field": "h", "type": "quantitative", "scale": {"domain": [5, 20], "nice": false, "zero": false},
                  "axis": {"orient": "left", "values": [6,7,8,9,10,11,12,13,14,15,16,17,18,19,20], "labelExpr": "datum.value % 2 == 0 ? datum.label : ''", "tickSize": {"expr": "datum.value % 2 == 0 ? -9 : -5"}, "labelPadding": 27, "title": "Central film thickness[nm]", "titleFontSize": 30, "titlePadding": 20}},
            "color": {"field": "s", "type": "nominal", "scale": {"domain": ["100 mm s⁻¹", "30 mm s⁻¹"], "range": ["#1a6fdf", "#37ad6b"]},
                      "legend": {"title": "Entrainment speed:", "orient": "none", "legendX": 749, "legendY": 17, "strokeColor": "black", "fillColor": "white", "padding": 7, "titleFontSize": 31, "titleFontWeight": "normal", "titleColor": "black", "titleFont": "Liberation Sans", "titleLimit": 500, "labelLimit": 400, "labelFontSize": 31, "labelColor": "black", "labelFont": "Liberation Sans", "symbolSize": 70, "symbolOffset": 23, "labelOffset": 22, "rowPadding": 15, "titlePadding": 11}},
            "shape": {"field": "s", "type": "nominal", "scale": {"domain": ["100 mm s⁻¹", "30 mm s⁻¹"], "range": ["diamond", "triangle-right"]},
                      "legend": {"title": "Entrainment speed:", "orient": "none", "legendX": 749, "legendY": 17, "strokeColor": "black", "fillColor": "white", "padding": 7, "titleFontSize": 31, "titleFontWeight": "normal", "titleColor": "black", "titleFont": "Liberation Sans", "titleLimit": 500, "labelLimit": 400, "labelFontSize": 31, "labelColor": "black", "labelFont": "Liberation Sans", "symbolSize": 70, "symbolOffset": 23, "labelOffset": 22, "rowPadding": 15, "titlePadding": 11}}
          }
        },
        {
          "data": {"name": "note"},
          "mark": {"type": "rect", "fill": "white", "stroke": "black", "strokeWidth": 1.5},
          "encoding": {
            "x": {"field": "x1", "type": "quantitative", "scale": {"domain": [0, 150], "nice": false, "zero": false}, "axis": null},
            "x2": {"field": "x2"},
            "y": {"field": "y1", "type": "quantitative", "scale": {"domain": [5, 20], "nice": false, "zero": false}, "axis": null},
            "y2": {"field": "y2"}
          }
        },
        {
          "data": {"name": "note"},
          "mark": {"type": "text", "align": "left", "baseline": "middle", "fontSize": 31, "font": "Liberation Sans", "color": "black"},
          "encoding": {
            "x": {"field": "tx", "type": "quantitative", "scale": {"domain": [0, 150], "nice": false, "zero": false}, "axis": null},
            "y": {"field": "ty", "type": "quantitative", "scale": {"domain": [5, 20], "nice": false, "zero": false}, "axis": null},
            "text": {"field": "label"}
          }
        }
      ]
    },
    {
      "width": 1111,
      "height": 139,
      "resolve": {"axis": {"x": "independent", "y": "independent"}},
      "layer": [
        {
          "data": {"name": "zones"},
          "mark": {"type": "rect", "color": "#fde5cf"},
          "encoding": {
            "x": {"field": "start", "type": "quantitative", "scale": {"domain": [0, 150], "nice": false, "zero": false},
                  "axis": {"orient": "bottom", "values": [0,15,30,45,60,75,90,105,120,135,150], "labelExpr": "datum.value % 30 == 0 ? datum.label : ''", "tickSize": {"expr": "datum.value % 30 == 0 ? -9 : -5"}, "labelPadding": 19, "title": "Time [min]", "titleFontSize": 30, "titlePadding": 5}},
            "x2": {"field": "end"}
          }
        },
        {
          "data": {"name": "zero"},
          "mark": {"type": "rule", "color": "#8c8c8c", "strokeDash": [7, 5], "strokeWidth": 1.5},
          "encoding": {
            "y": {"field": "z", "type": "quantitative", "scale": {"domain": [-48, 31], "nice": false, "zero": false},
                  "axis": {"orient": "left", "values": [-40,-30,-20,-10,0,10,20], "labels": false, "title": null, "tickSize": -7}}
          }
        },
        {
          "data": {"name": "current"},
          "mark": {"type": "line", "strokeWidth": 3.5, "interpolate": "linear"},
          "encoding": {
            "x": {"field": "t", "type": "quantitative", "scale": {"domain": [0, 150], "nice": false, "zero": false},
                  "axis": {"orient": "top", "values": [0,15,30,45,60,75,90,105,120,135,150], "labels": false, "title": null, "tickSize": {"expr": "datum.value % 30 == 0 ? -9 : -5"}}},
            "y": {"field": "i", "type": "quantitative", "scale": {"domain": [-48, 31], "nice": false, "zero": false},
                  "axis": {"orient": "right", "values": [-40,-30,-20,-10,0,10,20], "labelExpr": "datum.value % 20 == 0 ? datum.label : ''", "tickSize": -7, "labelPadding": 16, "title": "Current [μA]", "titleFontSize": 28, "titleAngle": 270, "titleBaseline": "top", "titlePadding": 3}},
            "color": {"field": "s", "type": "nominal", "scale": {"domain": ["100", "30"], "range": ["#1a6fdf", "#37ad6b"]}, "legend": null},
            "order": {"field": "t"}
          }
        },
        {
          "data": {"name": "volts"},
          "mark": {"type": "text", "fontSize": 23.5, "fontWeight": "bold", "font": "Liberation Sans", "color": "black", "baseline": "middle"},
          "encoding": {
            "x": {"field": "t", "type": "quantitative", "scale": {"domain": [0, 150], "nice": false, "zero": false}, "axis": null},
            "y": {"field": "i", "type": "quantitative", "scale": {"domain": [-48, 31], "nice": false, "zero": false}, "axis": null},
            "text": {"field": "label"}
          }
        }
      ]
    }
  ]
}
